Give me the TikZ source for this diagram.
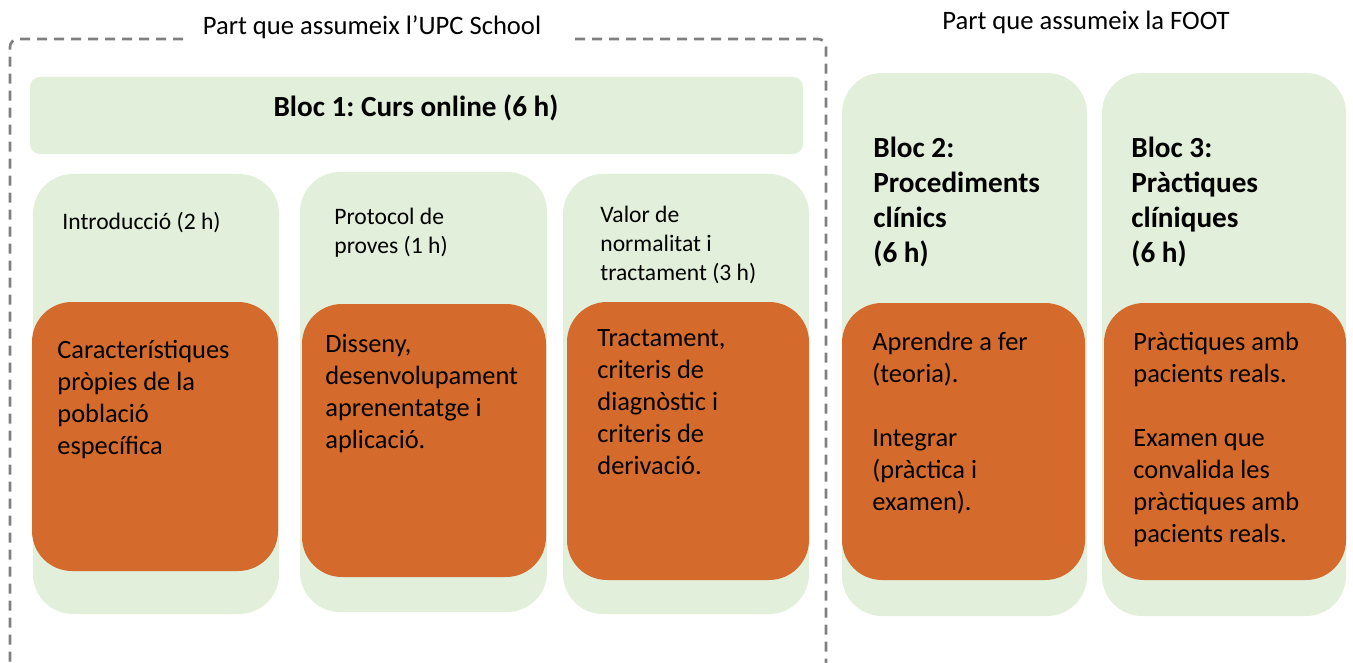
\documentclass[tikz,border=0pt]{standalone}
\usepackage{fontspec}
\setmainfont{Carlito}
\frenchspacing
\definecolor{blockgreen}{HTML}{E2EFDA}
\definecolor{blockorange}{HTML}{D46B2C}
\definecolor{framegray}{HTML}{808080}
\tikzset{
  greenbox/.style={fill=blockgreen, rounded corners=20pt, inner sep=0pt},
  orangebox/.style={fill=blockorange, rounded corners=20pt, inner sep=0pt},
  headtext/.style={anchor=north west, align=left, inner sep=0pt, font=\fontsize{11.8}{14.5}\selectfont},
  boldtext/.style={anchor=north west, align=left, inner sep=0pt, font=\fontsize{14.6}{17.5}\selectfont\bfseries},
  bodytext/.style={anchor=north west, align=left, inner sep=0pt, font=\fontsize{13.2}{16}\selectfont},
  parttext/.style={inner sep=0pt, font=\fontsize{13.3}{15}\selectfont},
}
\begin{document}
\begin{tikzpicture}[x=0.5pt, y=-0.5pt]
  \useasboundingbox (0,0) rectangle (1353,663);
  % part titles and frame
  \node[parttext] (upctitle) at (372,27) {Part que assumeix l’UPC School};
  \node[parttext] (foottitle) at (1086,22) {Part que assumeix la FOOT};
  \coordinate (frameleft) at (183,39);
  \coordinate (frameright) at (575,39);
  \draw[framegray, line width=1.3pt, dash pattern=on 5pt off 3.5pt, rounded corners=4pt]
    (frameleft) -- (10,39) -- (10,663);
  \draw[framegray, line width=1.3pt, dash pattern=on 5pt off 3.5pt, rounded corners=4pt]
    (frameright) -- (826,39) -- (826,663);

  % bloc 1
  \node[greenbox, rounded corners=5pt, minimum width=386.5pt, minimum height=38.5pt] (bloc1) at (416.5,115.5) {};
  \node[font=\fontsize{14.6}{17}\selectfont\bfseries] (bloc1title) at (416,108) {Bloc 1: Curs online (6 h)};

  % columns
  \node[greenbox, minimum width=123pt, minimum height=220pt] (intro) at (156,394) {};
  \node[greenbox, minimum width=123.5pt, minimum height=220pt] (proves) at (423.5,392) {};
  \node[greenbox, minimum width=123pt, minimum height=220pt] (valor) at (686,394) {};
  \node[greenbox, minimum width=122.5pt, minimum height=271.5pt] (bloc2) at (964.5,344.5) {};
  \node[greenbox, minimum width=122pt, minimum height=271.5pt] (bloc3) at (1224,344.5) {};

  \node[orangebox, minimum width=123pt, minimum height=134.5pt] (introbox) at (155,436.5) {};
  \node[orangebox, minimum width=122pt, minimum height=136.5pt] (provesbox) at (424,440.5) {};
  \node[orangebox, minimum width=121pt, minimum height=139pt] (valorbox) at (688,441) {};
  \node[orangebox, minimum width=121.5pt, minimum height=138.5pt] (bloc2box) at (963.5,441.5) {};
  \node[orangebox, minimum width=121pt, minimum height=138.5pt] (bloc3box) at (1225,441.5) {};

  % column titles
  \node[headtext] (introtitle) at (62,212) {Introducció (2 h)};
  \node[headtext] (provestitle) at (334,208) {Protocol de\\proves (1 h)};
  \node[headtext] (valortitle) at (600,206) {Valor de\\normalitat i\\tractament (3 h)};
  \node[boldtext] (bloc2title) at (873,137) {Bloc 2:\\Procediments\\clínics\\(6 h)};
  \node[boldtext] (bloc3title) at (1131,137) {Bloc 3:\\Pràctiques\\clíniques\\(6 h)};

  % contents
  \node[bodytext] (introtext) at (57,339.5) {Característiques\\pròpies de la\\població\\específica};
  \node[bodytext] (provestext) at (325,333.5) {Disseny,\\desenvolupament\\aprenentatge i\\aplicació.};
  \node[bodytext] (valortext) at (597,329.5) {Tractament,\\criteris de\\diagnòstic i\\criteris de\\derivació.};
  \node[bodytext] (bloc2text) at (872,331.5) {Aprendre a fer\\(teoria).\\[16pt]Integrar\\(pràctica i\\examen).};
  \node[bodytext] (bloc3text) at (1133,331.5) {Pràctiques amb\\pacients reals.\\[16pt]Examen que\\convalida les\\pràctiques amb\\pacients reals.};
\end{tikzpicture}
\end{document}
